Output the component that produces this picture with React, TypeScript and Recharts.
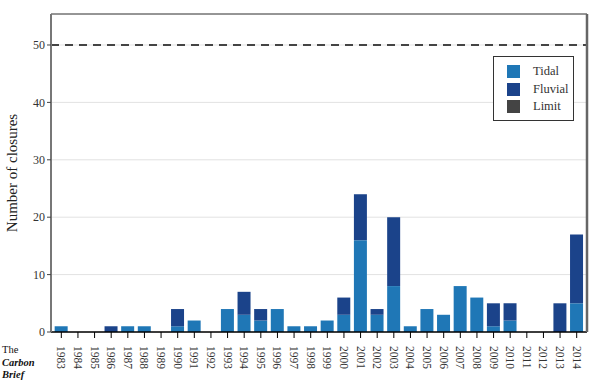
import React from 'react';
import { BarChart, Bar, XAxis, YAxis, CartesianGrid, ReferenceLine } from 'recharts';

const years = ['1983','1984','1985','1986','1987','1988','1989','1990','1991','1992','1993','1994','1995','1996','1997','1998','1999','2000','2001','2002','2003','2004','2005','2006','2007','2008','2009','2010','2011','2012','2013','2014'];
const tidal =   [1,0,0,0,1,1,0,1,2,0,4,3,2,4,1,1,2,3,16,3,8,1,4,3,8,6,1,2,0,0,0,5];
const fluvial = [0,0,0,1,0,0,0,3,0,0,0,4,2,0,0,0,0,3,8,1,12,0,0,0,0,0,4,3,0,0,5,12];
const limit = 50;
const yTicks = [0, 10, 20, 30, 40, 50];
const seriesNames = ['Tidal', 'Fluvial', 'Limit'];
const colors = ['#1f77b6', '#1b438a', '#444444'];

const data = years.map((y, i) => ({ year: y, Tidal: tidal[i], Fluvial: fluvial[i] }));

const FONT = '"Liberation Serif", "DejaVu Serif", serif';

const XTick = (props: any) => {
  const { x, y, payload } = props;
  return (
    <g transform={`translate(${x},${y})`}>
      <text transform="rotate(90)" x={6} y={0} dy="0.35em" textAnchor="start" fontSize={11.5} fill="#333" fontFamily={FONT}>
        {payload.value}
      </text>
    </g>
  );
};

const YTick = (props: any) => {
  const { x, y, payload } = props;
  return (
    <text x={x} y={y} dy="0.35em" textAnchor="end" fontSize={12} fill="#333" fontFamily={FONT}>
      {payload.value}
    </text>
  );
};

const LegendBox = () => (
  <div style={{ position: 'absolute', left: 493, top: 56, border: '1px solid #333', background: '#fff', width: 81, height: 65, boxSizing: 'border-box', padding: '6px 0 0 13px', fontFamily: FONT, fontSize: 12.5, color: '#333' }}>
    {seriesNames.map((n, i) => (
      <div key={n} style={{ display: 'flex', alignItems: 'center', height: 17.5 }}>
        <span style={{ display: 'inline-block', width: 13, height: 13, background: colors[i], marginRight: 13 }} />
        <span>{n}</span>
      </div>
    ))}
  </div>
);

export default function App() {
  return (
    <div style={{ position: 'absolute', left: 0, top: 0, width: 600, height: 384, background: '#fff' }}>
      <BarChart width={600} height={384} data={data} margin={{ top: 0, right: 0, bottom: 0, left: 0 }} barCategoryGap="10%">
        <CartesianGrid vertical={false} stroke="#e2e2e2" />
        <XAxis dataKey="year" height={52} tick={<XTick />} tickSize={6} tickLine={{ stroke: '#000' }} axisLine={{ stroke: '#000', strokeWidth: 1.5 }} interval={0} padding={{ left: 2, right: 2 }} />
        <XAxis xAxisId="top" dataKey="year" orientation="top" height={14} tick={false} tickLine={false} axisLine={{ stroke: '#777', strokeWidth: 1.5 }} />
        <YAxis width={51} domain={[0, 55.4]} ticks={yTicks} tickSize={4} tickLine={{ stroke: '#444' }} axisLine={{ stroke: '#777', strokeWidth: 2 }} tick={<YTick />}
          label={{ content: () => (
            <text x={12} y={173} transform="rotate(-90 12 173)" textAnchor="middle" dominantBaseline="central" fontSize={15} fill="#222" fontFamily={FONT}>Number of closures</text>
          ) }} />
        <YAxis yAxisId="r" orientation="right" width={13} domain={[0, 55.4]} tick={false} tickLine={false} axisLine={{ stroke: '#666', strokeWidth: 2.5 }} />
        <ReferenceLine y={limit} stroke={colors[2]} strokeWidth={2} strokeDasharray="8 6" />
        <Bar dataKey="Tidal" stackId="a" fill={colors[0]} isAnimationActive={false} />
        <Bar dataKey="Fluvial" stackId="a" fill={colors[1]} isAnimationActive={false} />
      </BarChart>
      <LegendBox />
      <div style={{ position: 'absolute', left: 2, top: 344, fontFamily: FONT, color: '#111', fontSize: 10.5, lineHeight: '12.5px' }}>
        <div>The</div>
        <div style={{ fontWeight: 'bold', fontStyle: 'italic' }}>Carbon</div>
        <div style={{ fontWeight: 'bold', fontStyle: 'italic' }}>Brief</div>
      </div>
    </div>
  );
}
